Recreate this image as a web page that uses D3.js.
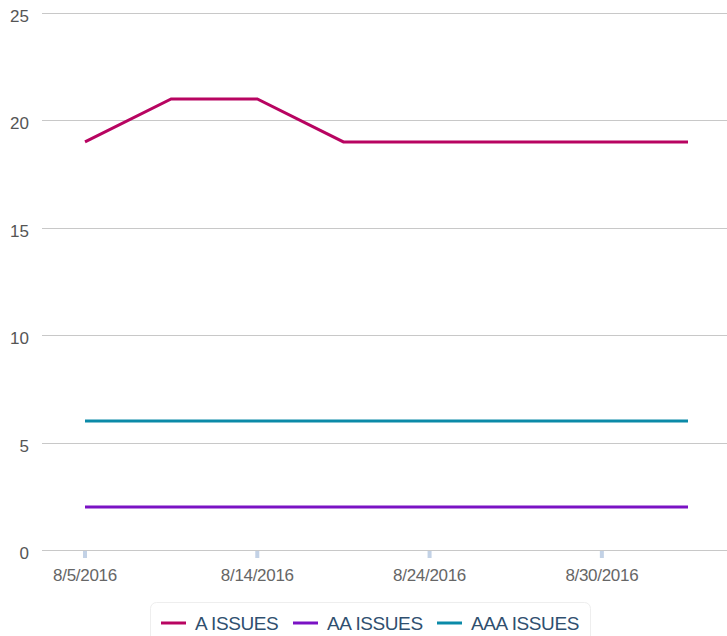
<!DOCTYPE html>
<html>
<head>
<meta charset="utf-8">
<script src="https://cdn.jsdelivr.net/npm/d3@7"></script>
<style>
  body { margin: 0; background: #fff; }
  svg text { font-family: "Liberation Sans", Arial, sans-serif; }
</style>
</head>
<body>
<script>
'use strict';

// chart data
const dates = ['8/5/2016', '8/9/2016', '8/14/2016', '8/19/2016', '8/24/2016', '8/27/2016', '8/30/2016', '9/2/2016'];
const labelledDates = ['8/5/2016', '8/14/2016', '8/24/2016', '8/30/2016'];
const aIssues = [19, 21, 21, 19, 19, 19, 19, 19];
const aaIssues = [2, 2, 2, 2, 2, 2, 2, 2];
const aaaIssues = [6, 6, 6, 6, 6, 6, 6, 6];
const yTicks = [0, 5, 10, 15, 20, 25];

const series = [
  { name: 'A ISSUES', values: aIssues, color: '#b80461' },
  { name: 'AA ISSUES', values: aaIssues, color: '#7a12c4' },
  { name: 'AAA ISSUES', values: aaaIssues, color: '#0b8aa8' }
];

const svg = d3.select('body').append('svg')
  .attr('width', 727)
  .attr('height', 636);

// scales
const x = d3.scalePoint().domain(dates).range([85, 688]);
const y = d3.scaleLinear().domain([0, 25]).range([550, 13]);

// gridlines
svg.append('g')
  .selectAll('line')
  .data(yTicks)
  .enter()
  .append('line')
    .attr('x1', 42)
    .attr('x2', 727)
    .attr('y1', d => Math.round(y(d)) + 0.5)
    .attr('y2', d => Math.round(y(d)) + 0.5)
    .attr('stroke', '#c8c8c8')
    .attr('stroke-width', 1);

// y labels
svg.append('g')
  .selectAll('text')
  .data(yTicks)
  .enter()
  .append('text')
    .attr('x', 29)
    .attr('y', d => y(d) + 9)
    .attr('text-anchor', 'end')
    .style('font-size', '17px')
    .attr('fill', '#555')
    .text(d => d);

// x ticks and labels
const xg = svg.append('g');
xg.selectAll('rect')
  .data(labelledDates)
  .enter()
  .append('rect')
    .attr('x', d => x(d) - 2)
    .attr('y', 551)
    .attr('width', 4)
    .attr('height', 7)
    .attr('fill', '#c3d2e6');
xg.selectAll('text')
  .data(labelledDates)
  .enter()
  .append('text')
    .attr('x', d => x(d))
    .attr('y', 581)
    .attr('text-anchor', 'middle')
    .style('font-size', '17px')
    .style('letter-spacing', '-0.3px')
    .attr('fill', '#666')
    .text(d => d);

// lines
const line = d3.line()
  .x((d, i) => x(dates[i]))
  .y(d => y(d));

svg.append('g')
  .selectAll('path')
  .data(series)
  .enter()
  .append('path')
    .attr('d', d => line(d.values))
    .attr('fill', 'none')
    .attr('stroke', d => d.color)
    .attr('stroke-width', 3);

// legend
const legend = svg.append('g');
legend.append('rect')
  .attr('x', 150.5)
  .attr('y', 602.5)
  .attr('width', 440)
  .attr('height', 50)
  .attr('rx', 6)
  .attr('fill', '#fff')
  .attr('stroke', '#eeeeee');

const legendX = [161, 293, 437];
const items = legend.selectAll('g.item')
  .data(series)
  .enter()
  .append('g')
    .attr('class', 'item')
    .attr('transform', (d, i) => 'translate(' + legendX[i] + ', 623)');
items.append('line')
  .attr('x1', 0)
  .attr('x2', 25)
  .attr('stroke', d => d.color)
  .attr('stroke-width', 3);
items.append('text')
  .attr('x', 34)
  .attr('y', 7)
  .style('font-size', '19px')
  .style('letter-spacing', '-0.4px')
  .attr('fill', '#2f4f6f')
  .text(d => d.name);
</script>
</body>
</html>
